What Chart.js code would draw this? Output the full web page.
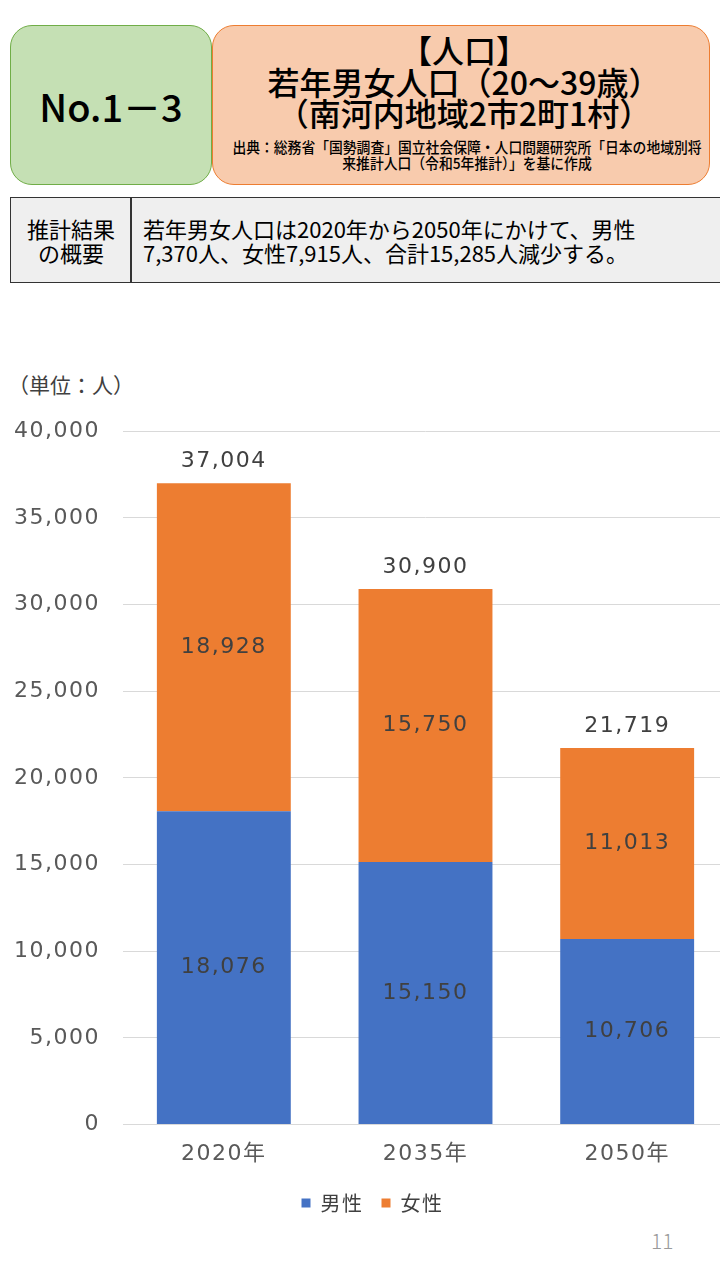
<!DOCTYPE html>
<html><head><meta charset="utf-8">
<script src="https://cdn.jsdelivr.net/npm/chart.js@4.4.0/dist/chart.umd.min.js"></script>
<style>
html,body{margin:0;padding:0;width:720px;height:1280px;overflow:hidden;background:#fff;font-family:"Noto Sans CJK JP","Noto Sans",sans-serif;}
.box{position:absolute;box-sizing:border-box;border-radius:22px;}
#g{left:10px;top:25px;width:202px;height:160px;background:#c5e0b4;border:1px solid #70ad47;}
#o{left:212px;top:25px;width:498px;height:160px;background:#f8cbad;border:1px solid #ed7d31;}
#no{position:absolute;left:10px;top:25px;width:202px;height:160px;display:flex;align-items:center;justify-content:center;font-size:38px;font-weight:500;color:#000;}
.t{position:absolute;left:215px;width:498px;text-align:center;color:#000;white-space:nowrap;}
#tb{position:absolute;left:10px;top:197px;width:720px;height:86px;background:#efefef;border-top:1.5px solid #333;border-bottom:1.5px solid #333;border-left:1.5px solid #333;box-sizing:border-box;}
#div{position:absolute;left:130px;top:197px;width:1.5px;height:86px;background:#333;}
.s{position:absolute;font-size:22px;color:#000;white-space:nowrap;line-height:24px;}
#unit{position:absolute;left:8px;top:369px;font-size:21px;color:#404040;}
#pg{position:absolute;left:651px;top:1225px;font-size:21px;color:#9a9a9a;font-family:"Noto Sans CJK JP";font-weight:300;}
#wrap{position:absolute;left:0;top:395px;width:728px;height:828px;}
</style></head><body>
<div class="box" id="g"></div>
<div class="box" id="o"></div>
<div id="no">No.1－3</div>
<div class="t" style="top:32px;font-size:32px;line-height:34px;font-weight:500;">【人口】</div>
<div class="t" style="top:64px;font-size:32px;line-height:34px;font-weight:500;">若年男女人口（20～39歳）</div>
<div class="t" style="top:95px;font-size:32px;line-height:34px;font-weight:500;">（南河内地域2市2町1村）</div>
<div class="t" style="left:212px;top:139px;font-size:15px;line-height:16px;font-weight:500;"><span style="display:inline-block;transform:scaleX(0.92);transform-origin:center;">出典：総務省「国勢調査」国立社会保障・人口問題研究所「日本の地域別将<br>来推計人口（令和5年推計）」を基に作成</span></div>
<div id="tb"></div><div id="div"></div>
<div class="s" style="left:22px;top:216px;text-align:center;width:98px;">推計結果<br>の概要</div>
<div class="s" style="left:143px;top:216px;">若年男女人口は2020年から2050年にかけて、男性<br>7,370人、女性7,915人、合計15,285人減少する。</div>
<div id="unit">（単位：人）</div>
<div id="pg">11</div>
<div id="wrap"><canvas id="c"></canvas></div>
<script>
const categories = ["2020年", "2035年", "2050年"];
const maleValues = [18076, 15150, 10706];
const femaleValues = [18928, 15750, 11013];
const totalValues = [37004, 30900, 21719];
const seriesNames = ["男性", "女性"];
const yTicks = [0, 5000, 10000, 15000, 20000, 25000, 30000, 35000, 40000];

const fmt = v => v.toLocaleString('en-US');
const FONT = '"DejaVu Sans", "Noto Sans CJK JP", sans-serif';
const LFONT = '"Noto Sans CJK JP", sans-serif';

const spacingPlugin = {
  id: 'spacing',
  beforeDraw(chart) { chart.ctx.letterSpacing = '1.5px'; }
};

const labelPlugin = {
  id: 'labels',
  afterDatasetsDraw(chart) {
    const ctx = chart.ctx;
    ctx.save();
    ctx.letterSpacing = '1.5px';
    ctx.font = '22px ' + FONT;
    ctx.fillStyle = '#404040';
    ctx.textAlign = 'center';
    ctx.textBaseline = 'middle';
    chart.data.datasets.forEach((ds, i) => {
      const meta = chart.getDatasetMeta(i);
      meta.data.forEach((el, j) => {
        ctx.fillText(fmt(ds.data[j]), el.x, (el.y + el.base) / 2);
      });
    });
    const top = chart.getDatasetMeta(chart.data.datasets.length - 1);
    top.data.forEach((el, j) => {
      ctx.fillText(fmt(totalValues[j]), el.x, el.y - 22);
    });
    ctx.restore();
  }
};

new Chart(document.getElementById('c'), {
  type: 'bar',
  data: {
    labels: categories,
    datasets: [
      { label: seriesNames[0], data: maleValues, backgroundColor: '#4472c4' },
      { label: seriesNames[1], data: femaleValues, backgroundColor: '#ed7d31' }
    ]
  },
  options: {
    responsive: true,
    maintainAspectRatio: false,
    animation: false,
    layout: { padding: { left: 11, top: 29, right: 0, bottom: 0 } },
    datasets: { bar: { barPercentage: 0.664, categoryPercentage: 1 } },
    scales: {
      x: {
        stacked: true,
        grid: { display: false },
        border: { display: true, color: '#d9d9d9' },
        ticks: { color: '#595959', font: { size: 22, family: FONT }, padding: 8 }
      },
      y: {
        stacked: true,
        min: 0, max: 40000,
        afterBuildTicks: axis => { axis.ticks = yTicks.map(v => ({ value: v })); },
        afterFit: axis => { axis.width = 112; },
        grid: { color: '#d9d9d9', drawTicks: false },
        border: { display: false },
        ticks: { color: '#595959', font: { size: 22, family: FONT }, padding: 23, callback: v => fmt(v) }
      }
    },
    plugins: {
      tooltip: { enabled: false },
      legend: {
        position: 'bottom',
        labels: { color: '#404040', font: { size: 20, family: LFONT }, boxWidth: 9, boxHeight: 9, padding: 18 }
      }
    }
  },
  plugins: [spacingPlugin, labelPlugin]
});
</script>
</body></html>
